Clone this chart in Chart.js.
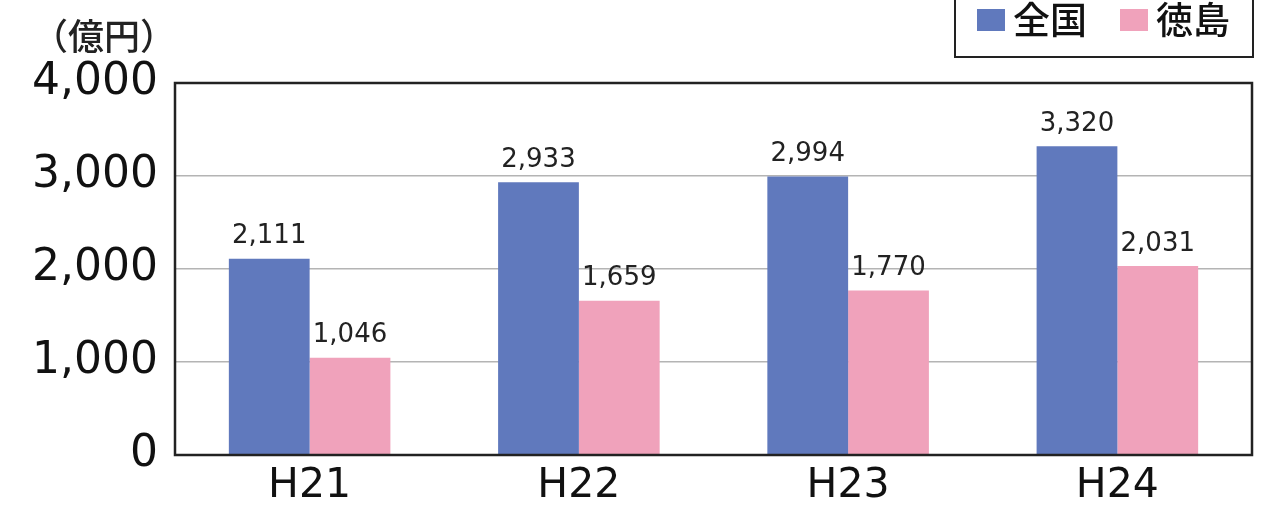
<!DOCTYPE html>
<html>
<head>
<meta charset="utf-8">
<script src="https://cdn.jsdelivr.net/npm/chart.js@4/dist/chart.umd.min.js"></script>
<style>
  html, body { margin: 0; padding: 0; background: #fff; }
  #wrap { width: 1282px; height: 505px; }
</style>
</head>
<body>
<div id="wrap"><canvas id="kokuChart" width="1282" height="505"></canvas></div>
<script>
const categories = ['H21', 'H22', 'H23', 'H24'];
const zenkoku = [2111, 2933, 2994, 3320];
const tokushima = [1046, 1659, 1770, 2031];
const seriesNames = ['全国', '徳島'];
const yTicks = [0, 1000, 2000, 3000, 4000];
const unitLabel = '（億円）';

const jpFont = '"Noto Sans CJK JP", "Noto Sans", sans-serif';
const numFont = '"DejaVu Sans", sans-serif';

function fmt(v) {
    return v.toLocaleString('en-US');
}

// values over each bar
const valueLabels = {
    id: 'valueLabels',
    afterDatasetsDraw(chart) {
        const ctx = chart.ctx;
        ctx.save();
        ctx.font = '26px ' + numFont;
        ctx.fillStyle = '#222';
        ctx.textAlign = 'center';
        ctx.textBaseline = 'bottom';
        chart.data.datasets.forEach((ds, i) => {
            chart.getDatasetMeta(i).data.forEach((bar, j) => {
                ctx.fillText(fmt(ds.data[j]), bar.x, bar.y - 9);
            });
        });
        ctx.restore();
    }
};

// plot frame, unit text and boxed legend
const frame = {
    id: 'frame',
    afterDatasetsDraw(chart) {
        const ctx = chart.ctx;
        const a = chart.chartArea;
        ctx.save();
        ctx.strokeStyle = '#222';
        ctx.lineWidth = 2.5;
        ctx.strokeRect(a.left, a.top, a.right - a.left, a.bottom - a.top);
        ctx.restore();
    },
    afterDraw(chart) {
        const ctx = chart.ctx;
        ctx.save();
        ctx.fillStyle = '#222';
        ctx.font = '500 36px ' + jpFont;
        ctx.textAlign = 'center';
        ctx.textBaseline = 'middle';
        ctx.fillText(unitLabel, 104, 36);

        // legend box
        ctx.strokeStyle = '#222';
        ctx.lineWidth = 2;
        ctx.strokeRect(955, -5, 298, 62);
        const xs = [977, 1120];
        ctx.font = '500 37px ' + jpFont;
        ctx.textAlign = 'left';
        chart.data.datasets.forEach((ds, i) => {
            ctx.fillStyle = ds.backgroundColor;
            ctx.fillRect(xs[i], 9, 28, 22);
            ctx.fillStyle = '#111';
            ctx.fillText(ds.label, xs[i] + 36, 20);
        });
        ctx.restore();
    }
};

const data = {
    labels: categories,
    datasets: [{
        label: seriesNames[0],
        backgroundColor: '#6079bd',
        data: zenkoku,
    }, {
        label: seriesNames[1],
        backgroundColor: '#f0a2bb',
        data: tokushima,
    }]
};

const config = {
    type: 'bar',
    data: data,
    options: {
        responsive: false,
        animation: false,
        layout: { padding: { top: 83, right: 30, left: 0, bottom: 0 } },
        datasets: { bar: { categoryPercentage: 0.6, barPercentage: 1.0 } },
        plugins: {
            legend: { display: false },
            tooltip: { enabled: false }
        },
        scales: {
            x: {
                grid: { display: false, drawTicks: false },
                border: { display: false },
                ticks: { color: '#111', font: { family: numFont, size: 41 }, padding: 7 },
                afterFit(scale) { scale.height = 50; }
            },
            y: {
                min: 0,
                max: 4000,
                afterBuildTicks(scale) { scale.ticks = yTicks.map(v => ({ value: v })); },
                grid: { color: '#b4b4b4', lineWidth: 1.5, drawTicks: false },
                border: { display: false },
                ticks: {
                    color: '#111',
                    padding: 17,
                    font: { family: numFont, size: 44 },
                    callback: v => fmt(v)
                },
                afterFit(scale) { scale.width = 175; }
            }
        }
    },
    plugins: [valueLabels, frame]
};

new Chart(document.getElementById('kokuChart'), config);
</script>
</body>
</html>
